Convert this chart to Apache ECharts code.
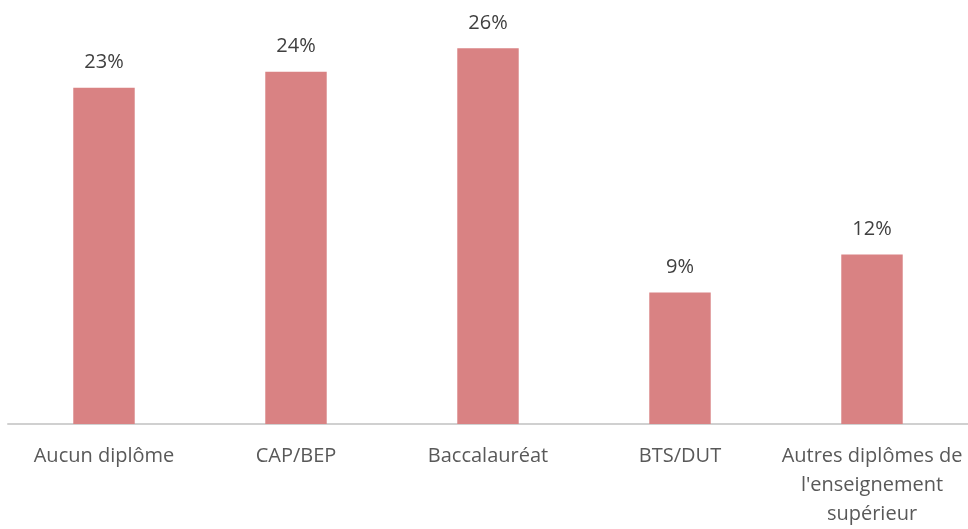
<!DOCTYPE html>
<html>
<head>
<meta charset="utf-8">
<script src="https://cdn.jsdelivr.net/npm/echarts@6/dist/echarts.min.js"></script>
<style>
  html, body { margin: 0; padding: 0; background: #fff; }
  #chart { width: 968px; height: 529px; }
</style>
</head>
<body>
<div id="chart"></div>
<script>
// catégories de diplômes
const categories = ['Aucun diplôme', 'CAP/BEP', 'Baccalauréat', 'BTS/DUT', "Autres diplômes de\nl'enseignement\nsupérieur"];
// part en %
const values = [23, 24.1, 25.7, 9, 11.6];

const chart = echarts.init(document.getElementById('chart'));
chart.setOption({
  animation: false,
  grid: { left: 8, right: 0, top: 0, bottom: 99 },
  xAxis: {
    type: 'category',
    data: categories,
    axisLine: { show: true, lineStyle: { color: '#d0d0d0', width: 2 } },
    axisTick: { show: false },
    axisLabel: {
      interval: 0,
      color: '#595959',
      fontFamily: 'Open Sans',
      fontSize: 20,
      lineHeight: 29,
      margin: 18
    }
  },
  yAxis: {
    type: 'value',
    min: 0,
    max: 29,
    show: false,
    splitLine: { show: false }
  },
  series: [{
    type: 'bar',
    data: values,
    barWidth: '32%',
    itemStyle: { color: '#d98283' },
    label: {
      show: true,
      position: 'top',
      distance: 15,
      color: '#404040',
      fontFamily: 'Open Sans',
      fontSize: 20,
      formatter: p => Math.round(p.value) + '%'
    }
  }]
});
</script>
</body>
</html>
